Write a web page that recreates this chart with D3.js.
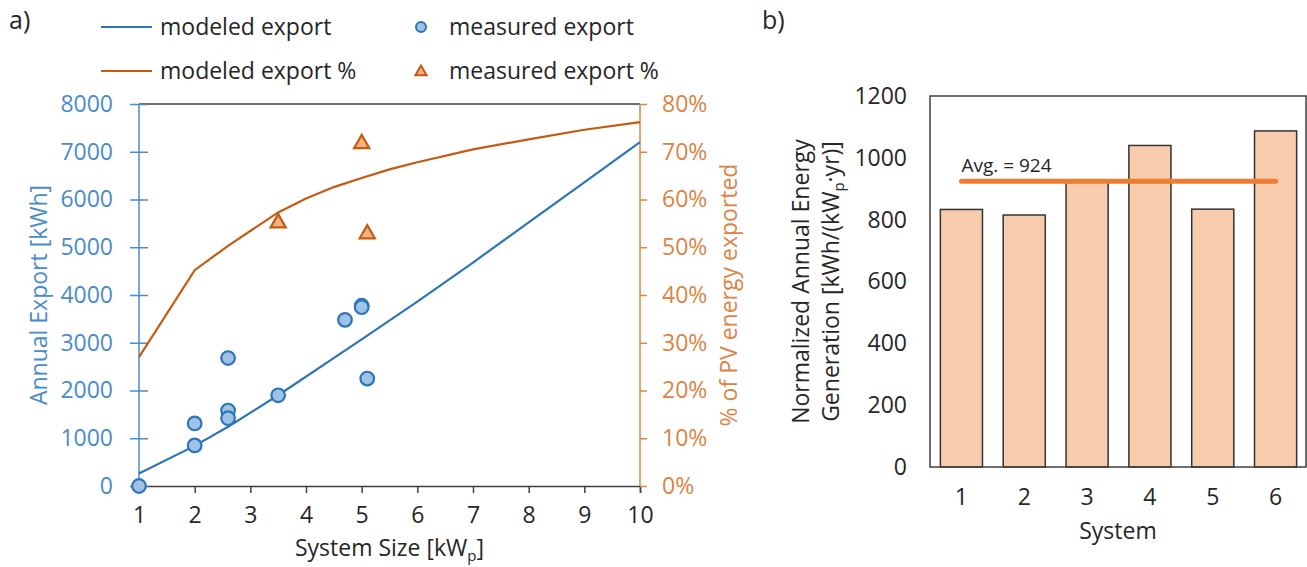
<!DOCTYPE html>
<html><head><meta charset="utf-8">
<script src="https://cdn.jsdelivr.net/npm/d3@7"></script>
<style>
body{margin:0;background:#fff}
text{font-family:"Open Sans",Lato,sans-serif}
</style>
</head><body>
<svg id="c" width="1307" height="567"></svg>
<script>
// ---- panel a: export vs. system size ----
const modelSize = [1, 2, 2.6, 3.5, 5, 6, 7, 8, 9, 10];
const modelExport = [260, 840, 1240, 1900, 3070, 3860, 4680, 5520, 6360, 7200];
const pctSize = [1, 2, 2.6, 3.5, 4, 4.5, 5, 5.5, 6, 7, 8, 9, 10];
const modelExportPct = [27.0, 45.2, 50.3, 57.3, 60.2, 62.6, 64.5, 66.3, 67.8, 70.5, 72.6, 74.6, 76.2];
const measSize = [1, 2, 2, 2.6, 2.6, 2.6, 3.5, 4.7, 5, 5, 5.1];
const measExport = [0, 1310, 850, 2680, 1580, 1420, 1900, 3480, 3775, 3745, 2250];
const measPctSize = [3.5, 5, 5.1];
const measPct = [55.3, 71.9, 53.0];
const sizeTicks = [1, 2, 3, 4, 5, 6, 7, 8, 9, 10];
const exportTicks = [0, 1000, 2000, 3000, 4000, 5000, 6000, 7000, 8000];
const pctTicks = [0, 10, 20, 30, 40, 50, 60, 70, 80];

// ---- panel b: normalized generation per system ----
const systems = ["1", "2", "3", "4", "5", "6"];
const normGen = [833, 815, 925, 1040, 834, 1087];
const avgGen = 924;
const genTicks = [0, 200, 400, 600, 800, 1000, 1200];

const svg = d3.select("#c");
const BLUE = "#2E75B6", BLUE_TXT = "#4A8BCB", BLUE_FILL = "#9DC3E6";
const ORANGE = "#C55A11", ORANGE_TXT = "#DB8445", ORANGE_FILL = "#F4B183";
const DARK = "#404040", TXT = "#262626";
const FS = 23;

// scales for panel a
const x = d3.scaleLinear().domain([1, 10]).range([139, 640]);
const yL = d3.scaleLinear().domain([0, 8000]).range([486, 104]);
const yR = d3.scaleLinear().domain([0, 80]).range([486, 104]);

const a = svg.append("g");

// top frame edge
a.append("line").attr("x1", x(1)).attr("x2", x(10)).attr("y1", yL(8000)).attr("y2", yL(8000))
  .attr("stroke", DARK).attr("stroke-width", 1.5);

// bottom axis
const xAxis = d3.axisBottom(x).tickValues(sizeTicks).tickSize(7).tickPadding(14).tickFormat(d3.format("d"));
const gx = a.append("g").attr("transform", `translate(0,${yL(0)})`).call(xAxis);
gx.select(".domain").attr("stroke", DARK).attr("stroke-width", 1.5);
gx.selectAll(".tick line").attr("stroke", DARK).attr("stroke-width", 1.5);
gx.selectAll(".tick text").attr("fill", TXT).attr("font-size", FS);

// left axis (ticks cross the axis line)
const yAxisL = d3.axisLeft(yL).tickValues(exportTicks).tickSize(9).tickPadding(17).tickFormat(d3.format("d"));
const gl = a.append("g").attr("transform", `translate(${x(1)},0)`).call(yAxisL);
gl.select(".domain").attr("stroke", BLUE_TXT).attr("stroke-width", 1.5).attr("d", `M0,${yL(0)}V${yL(8000)}`);
gl.selectAll(".tick line").attr("stroke", BLUE_TXT).attr("stroke-width", 1.5).attr("x1", 9).attr("x2", -9);
gl.selectAll(".tick text").attr("fill", BLUE_TXT).attr("font-size", FS);

// right axis
const yAxisR = d3.axisRight(yR).tickValues(pctTicks).tickSize(7).tickPadding(15).tickFormat(d => d + "%");
const gr = a.append("g").attr("transform", `translate(${x(10)},0)`).call(yAxisR);
gr.select(".domain").attr("stroke", ORANGE_TXT).attr("stroke-width", 1.5).attr("d", `M0,${yR(0)}V${yR(80)}`);
gr.selectAll(".tick line").attr("stroke", ORANGE_TXT).attr("stroke-width", 1.5);
gr.selectAll(".tick text").attr("fill", ORANGE_TXT).attr("font-size", FS);

// axis titles
a.append("text").attr("transform", `translate(47,${(yL(0) + yL(8000)) / 2}) rotate(-90)`)
  .attr("text-anchor", "middle").attr("fill", BLUE_TXT).attr("font-size", FS).text("Annual Export [kWh]");
a.append("text").attr("transform", `translate(737,${(yR(0) + yR(80)) / 2}) rotate(-90)`)
  .attr("text-anchor", "middle").attr("fill", ORANGE_TXT).attr("font-size", FS).text("% of PV energy exported");
const xt = a.append("text").attr("x", (x(1) + x(10)) / 2).attr("y", 556).attr("text-anchor", "middle")
  .attr("fill", TXT).attr("font-size", FS);
xt.append("tspan").text("System Size [kW");
xt.append("tspan").attr("font-size", 15).attr("dy", 5).text("p");
xt.append("tspan").attr("dy", -5).text("]");

// modeled lines
a.append("path").datum(d3.zip(modelSize, modelExport))
  .attr("fill", "none").attr("stroke", BLUE).attr("stroke-width", 2.2)
  .attr("d", d3.line().x(d => x(d[0])).y(d => yL(d[1])));
a.append("path").datum(d3.zip(pctSize, modelExportPct))
  .attr("fill", "none").attr("stroke", ORANGE).attr("stroke-width", 2.2)
  .attr("d", d3.line().x(d => x(d[0])).y(d => yR(d[1])));

// measured points
a.append("g").selectAll("circle").data(d3.zip(measSize, measExport)).join("circle")
  .attr("cx", d => x(d[0])).attr("cy", d => yL(d[1])).attr("r", 6.8)
  .attr("fill", BLUE_FILL).attr("stroke", BLUE).attr("stroke-width", 2.2);
const tri = d3.symbol().type(d3.symbolTriangle).size(100);
a.append("g").selectAll("path").data(d3.zip(measPctSize, measPct)).join("path")
  .attr("transform", d => `translate(${x(d[0])},${yR(d[1]) + 1})`).attr("d", tri)
  .attr("fill", ORANGE_FILL).attr("stroke", ORANGE).attr("stroke-width", 2.2);

// legend
const lg = a.append("g").attr("font-size", FS).attr("fill", TXT);
lg.append("line").attr("x1", 101).attr("x2", 152).attr("y1", 27).attr("y2", 27).attr("stroke", BLUE).attr("stroke-width", 2.2);
lg.append("text").attr("x", 160).attr("y", 27).attr("dy", "0.35em").text("modeled export");
lg.append("line").attr("x1", 101).attr("x2", 152).attr("y1", 71).attr("y2", 71).attr("stroke", ORANGE).attr("stroke-width", 2.2);
lg.append("text").attr("x", 160).attr("y", 71).attr("dy", "0.35em").text("modeled export %");
lg.append("circle").attr("cx", 421).attr("cy", 27).attr("r", 5).attr("fill", BLUE_FILL).attr("stroke", BLUE).attr("stroke-width", 2);
lg.append("text").attr("x", 449).attr("y", 27).attr("dy", "0.35em").text("measured export");
lg.append("path").attr("transform", "translate(421,72)").attr("d", d3.symbol().type(d3.symbolTriangle).size(55))
  .attr("fill", ORANGE_FILL).attr("stroke", ORANGE).attr("stroke-width", 2);
lg.append("text").attr("x", 449).attr("y", 71).attr("dy", "0.35em").text("measured export %");

svg.append("text").attr("x", 9).attr("y", 29).attr("font-size", 25).attr("fill", TXT).text("a)");
svg.append("text").attr("x", 762).attr("y", 29).attr("font-size", 25).attr("fill", TXT).text("b)");

// ---- panel b ----
const b = svg.append("g");
const xb = d3.scaleBand().domain(systems).range([930, 1307]).paddingInner(0.33).paddingOuter(0.165);
const yb = d3.scaleLinear().domain([0, 1200]).range([467, 96]);

b.selectAll("rect.bar").data(d3.zip(systems, normGen)).join("rect").attr("class", "bar")
  .attr("x", d => xb(d[0])).attr("width", xb.bandwidth())
  .attr("y", d => yb(d[1])).attr("height", d => yb(0) - yb(d[1]))
  .attr("fill", "#F8CBAD").attr("stroke", "#333").attr("stroke-width", 1.5);

b.append("rect").attr("x", 930).attr("y", yb(1200)).attr("width", 376).attr("height", yb(0) - yb(1200))
  .attr("fill", "none").attr("stroke", DARK).attr("stroke-width", 1.5);

const ybAxis = d3.axisLeft(yb).tickValues(genTicks).tickSize(0).tickPadding(23).tickFormat(d3.format("d"));
const gb = b.append("g").attr("transform", "translate(930,0)").call(ybAxis);
gb.select(".domain").remove();
gb.selectAll(".tick text").attr("fill", TXT).attr("font-size", FS);

const xbAxis = d3.axisBottom(xb).tickSize(0).tickPadding(22);
const gbx = b.append("g").attr("transform", `translate(0,${yb(0)})`).call(xbAxis);
gbx.select(".domain").remove();
gbx.selectAll(".tick text").attr("fill", TXT).attr("font-size", FS);

// average line
const cx0 = xb(systems[0]) + xb.bandwidth() / 2, cx1 = xb(systems[5]) + xb.bandwidth() / 2;
b.append("line").attr("x1", cx0).attr("x2", cx1).attr("y1", yb(avgGen)).attr("y2", yb(avgGen))
  .attr("stroke", "#ED7D31").attr("stroke-width", 5).attr("stroke-linecap", "round");
b.append("text").attr("x", cx0).attr("y", yb(avgGen) - 9).attr("font-size", 19).attr("fill", TXT).text(`Avg. = ${avgGen}`);

b.append("text").attr("x", 1118).attr("y", 539).attr("text-anchor", "middle").attr("font-size", FS).attr("fill", TXT).text("System");
const yt = b.append("text").attr("transform", `translate(0,${(yb(0) + yb(1200)) / 2}) rotate(-90)`)
  .attr("text-anchor", "middle").attr("font-size", FS).attr("fill", TXT);
yt.append("tspan").attr("x", 0).attr("y", 809).text("Normalized Annual Energy");
const l2 = yt.append("tspan").attr("x", 0).attr("y", 839);
l2.append("tspan").text("Generation [kWh/(kW");
l2.append("tspan").attr("font-size", 15).attr("dy", 5).text("p");
l2.append("tspan").attr("dy", -5).text("·yr)]");
</script>
</body></html>
